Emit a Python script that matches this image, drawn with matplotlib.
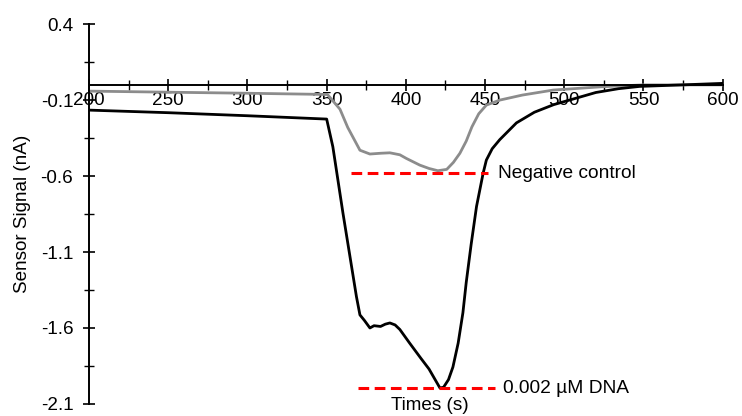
import matplotlib.pyplot as plt
from matplotlib.ticker import MultipleLocator

plt.rcParams['font.family'] = ['Liberation Sans', 'DejaVu Sans']

# 0.002 uM DNA trace (black)
dna_t = [200, 250, 300, 350, 353.9, 360.3, 368.8, 371.0, 373.8, 377.3, 379.9,
         384.0, 387.0, 389.9, 393.2, 396.2, 402.4, 409.5, 414.6, 421.5, 423.8,
         426.9, 429.7, 433.0, 436.0, 438.1, 441.2, 444.6, 448.8, 450.8, 454.5,
         459.3, 469.8, 481.1, 493.3, 506.6, 519.9, 534.2, 547.5, 574.1, 600]
dna_signal = [-0.166, -0.183, -0.203, -0.225, -0.407, -0.845, -1.394, -1.514,
              -1.55, -1.60, -1.585, -1.59, -1.575, -1.567, -1.58, -1.61, -1.70,
              -1.80, -1.87, -1.995, -1.99, -1.94, -1.857, -1.70, -1.50, -1.30,
              -1.05, -0.80, -0.58, -0.495, -0.42, -0.36, -0.25, -0.18, -0.13,
              -0.09, -0.05, -0.025, -0.01, 0.0, 0.01]

# Negative control trace (grey)
neg_t = [200, 250, 300, 350.5, 358.4, 363.3, 371.0, 377.3, 384.0, 389.9, 396.2,
         400.3, 408.8, 414.6, 420.2, 425.8, 430.0, 434.1, 438.1, 441.7, 446.0,
         450.8, 459.3, 473.5, 493.0, 524.0, 549.6, 600]
neg_signal = [-0.041, -0.048, -0.055, -0.063, -0.16, -0.28, -0.43, -0.455,
              -0.45, -0.447, -0.46, -0.484, -0.528, -0.55, -0.565, -0.556,
              -0.51, -0.45, -0.37, -0.276, -0.19, -0.133, -0.1, -0.067,
              -0.034, -0.012, 0.0, 0.0]

# red reference lines at each minimum
neg_line_t = [365.6, 451.9]
neg_line_y = [-0.58, -0.58]
dna_line_t = [369.7, 456.5]
dna_line_y = [-1.997, -1.997]

fig, ax = plt.subplots(figsize=(7.42, 4.16), dpi=100)
fig.subplots_adjust(left=0.12, right=0.974, bottom=0.029, top=0.942)

ax.plot(neg_t, neg_signal, color='#8c8c8c', lw=2)
ax.plot(dna_t, dna_signal, color='black', lw=2)
ax.plot(neg_line_t, neg_line_y, color='red', lw=2.2, dashes=(3.5, 1.8))
ax.plot(dna_line_t, dna_line_y, color='red', lw=2.2, dashes=(3.5, 1.8))

ax.text(458.1, -0.58, 'Negative control', fontsize=13.8, va='center')
ax.text(461.2, -1.997, '0.002 µM DNA', fontsize=13.8, va='center')

ax.set_xlim(200, 600)
ax.set_ylim(-2.1, 0.4)
ax.spines['top'].set_visible(False)
ax.spines['right'].set_visible(False)
ax.spines['bottom'].set_position(('data', 0))
ax.spines['left'].set_linewidth(1.4)
ax.spines['bottom'].set_linewidth(1.4)

ax.xaxis.set_major_locator(MultipleLocator(50))
ax.xaxis.set_minor_locator(MultipleLocator(25))
ax.set_yticks([0.4, -0.1, -0.6, -1.1, -1.6, -2.1])
ax.set_yticklabels(['0.4', '-0.1', '-0.6', '-1.1', '-1.6', '-2.1'])
ax.set_yticks([0.15, -0.35, -0.85, -1.35, -1.85], minor=True)

ax.tick_params(axis='both', which='major', direction='inout', length=8.6,
               width=1.2, labelsize=13.6)
ax.tick_params(axis='both', which='minor', direction='inout', length=7,
               width=1.0)
ax.tick_params(axis='x', which='major', pad=1)
ax.tick_params(axis='y', which='major', pad=7)

ax.set_ylabel('Sensor Signal (nA)', fontsize=13.6, labelpad=7)
ax.set_xlabel('Times (s)', fontsize=13.6)
ax.xaxis.set_label_coords(0.538, -0.003)
ax.xaxis.label.set_va('center')

fig.savefig('out.png', dpi=100)
